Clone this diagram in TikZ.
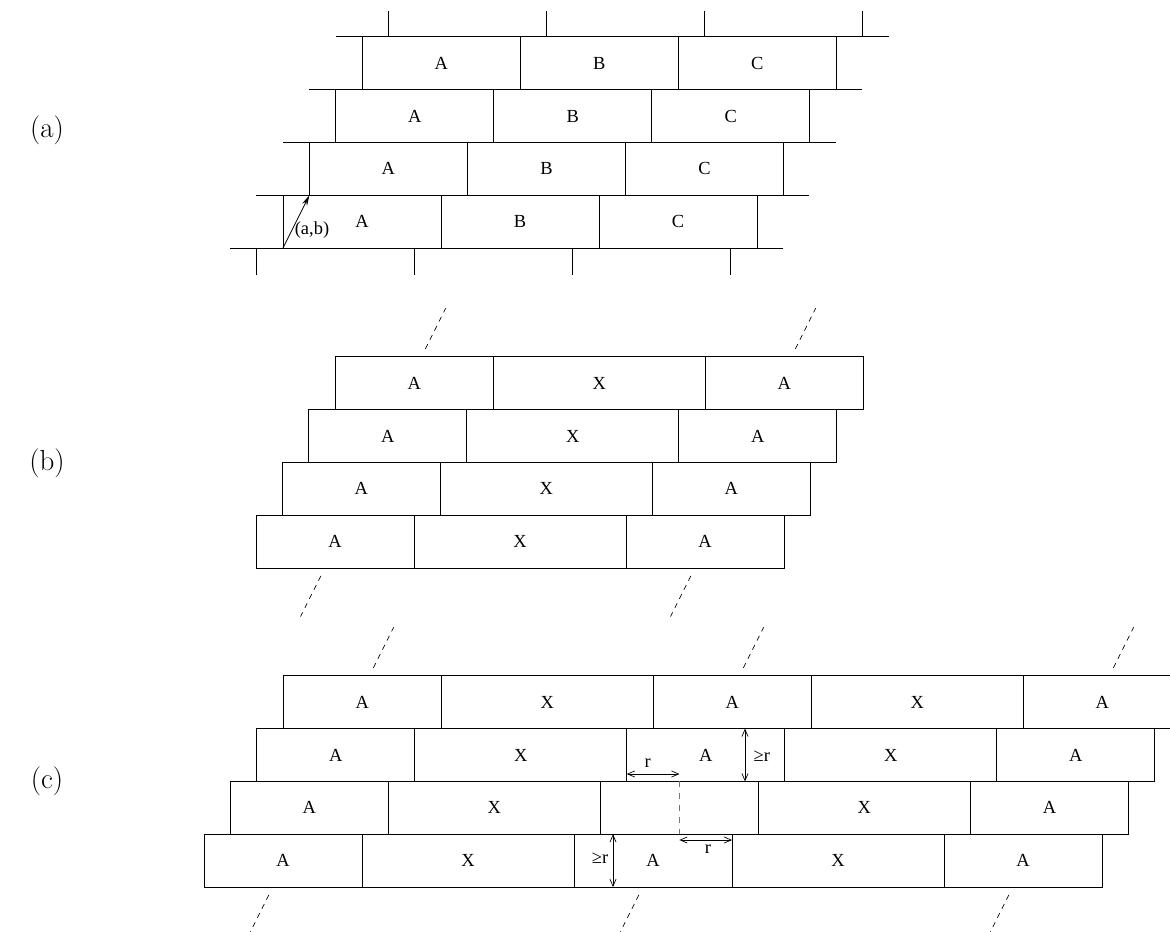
\documentclass[tikz,border=0pt]{standalone}
\usepackage{fontspec}
\newfontfamily\figfont{Liberation Serif}
\usetikzlibrary{arrows.meta,calc}

\begin{document}
\begin{tikzpicture}[
    x=0.02cm, y=-0.02cm,
    wall/.style={line width=0.5pt, black},
    brick/.style={draw=black, line width=0.5pt},
    blbl/.style={font=\figfont\fontsize{10.5pt}{12pt}\selectfont, inner sep=0pt},
    partlbl/.style={font=\fontsize{16.5pt}{19pt}\selectfont, inner sep=0pt},
    lattice/.style={line width=0.4pt, dash pattern=on 3pt off 2.8pt},
    hidden/.style={line width=0.6pt, black!55, dash pattern=on 3.4pt off 3.4pt},
    latvec/.style={-{Stealth[length=6pt,width=3pt]}, line width=0.5pt},
    measure/.style={{Straight Barb[length=4pt,width=3.5pt]}-{Straight Barb[length=4pt,width=3.5pt]},
                    line width=0.4pt},
]

\path[use as bounding box, clip] (0,0) rectangle (1170,932);

% Row offset and brick sizes
\def\dx{26.4}
\def\hh{52.8}
\def\wb{158}
\def\wx{212}

% === (a) periodic wall ===
\node[partlbl] (pa) at (47,130) {(a)};

% --- Horizontal joints ---
\foreach \i in {0,...,4} {
    \draw[wall] ({230+\i*\dx},{248-\i*\hh}) -- ({783+\i*\dx},{248-\i*\hh});
}
% --- Vertical joints (rows 1..4) ---
\foreach \i in {1,...,4} {
    \foreach \k in {0,...,3} {
        \draw[wall] ({283+(\i-1)*\dx+\k*\wb},{248-(\i-1)*\hh}) -- ++(0,-\hh);
    }
}
% --- Stubs of the rows below and above ---
\foreach \k in {0,...,3} {
    \draw[wall] ({256.6+\k*\wb},248) -- ++(0,27);
    \draw[wall] ({388.6+\k*\wb},36.8) -- ++(0,-26);
}
% --- Labels ---
\foreach \i in {1,...,4} {
    \foreach \t [count=\k from 0] in {A,B,C} {
        \node[blbl] (a\i\t) at ({362+(\i-1)*\dx+\k*\wb},{221.6-(\i-1)*\hh}) {\t};
    }
}
% --- Lattice vector ---
\coordinate (o0) at (283,248);
\coordinate (o1) at (309.4,195.2);
\draw[latvec] (o0) -- (o1);
\node[blbl] (ab) at (312,230) {(a,b)};

% === (b) ===
\node[partlbl] (pb) at (47,463) {(b)};

\foreach \i in {1,...,4} {
    \begin{scope}[shift={({256+(\i-1)*\dx},{568-(\i-1)*\hh})}]
        \draw[brick] (0,0) rectangle (528,-\hh);
        \draw[brick] (158,0) -- (158,-\hh) (370,0) -- (370,-\hh);
        \node[blbl] (b\i1) at (79,-26.4) {A};
        \node[blbl] (b\i2) at (264,-26.4) {X};
        \node[blbl] (b\i3) at (449,-26.4) {A};
    \end{scope}
}
% --- Repetition ---
\foreach \n in {b41,b43} {
    \draw[lattice] ($(\n)+(-6,0)+0.65*(\dx,-\hh)$) -- ($(\n)+(-6,0)+1.42*(\dx,-\hh)$);
}
\foreach \n in {b11,b13} {
    \draw[lattice] ($(\n)+(3,0)-0.65*(\dx,-\hh)$) -- ($(\n)+(3,0)-1.42*(\dx,-\hh)$);
}

% === (c) ===
\node[partlbl] (pc) at (47,781) {(c)};

\foreach \i/\mid in {1/A,2/{},3/A,4/A} {
    \begin{scope}[shift={({204+(\i-1)*\dx},{887-(\i-1)*\hh})}]
        \draw[brick] (0,0) rectangle (898,-\hh);
        \foreach \v in {158,370,528,740} {
            \draw[brick] (\v,0) -- (\v,-\hh);
        }
        \node[blbl] (c\i1) at (79,-26.4) {A};
        \node[blbl] (c\i2) at (264,-26.4) {X};
        \node[blbl] (c\i3) at (449,-26.4) {\mid};
        \node[blbl] (c\i4) at (634,-26.4) {X};
        \node[blbl] (c\i5) at (819,-26.4) {A};
    \end{scope}
}
% --- Middle of the empty brick ---
\draw[hidden] ($(c23)+(0,-26.4)$) -- ($(c23)+(0,26.4)$);

% --- Distances ---
\coordinate (ra0) at ($(c33)+(-79,19)$);
\coordinate (ra1) at ($(c33)+(-26.4,19)$);
\draw[measure] (ra0) -- (ra1);
\node[blbl] (rla) at ($(c33)+(-58,8)$) {r};

\coordinate (ga0) at ($(c33)+(39.2,-26.4)$);
\coordinate (ga1) at ($(c33)+(39.2,26.4)$);
\draw[measure] (ga0) -- (ga1);
\node[blbl] (gla) at ($(c33)+(56,1)$) {≥r};

\coordinate (rb0) at ($(c13)+(26.4,-20.6)$);
\coordinate (rb1) at ($(c13)+(79,-20.6)$);
\draw[measure] (rb0) -- (rb1);
\node[blbl] (rlb) at ($(c13)+(55,-11.6)$) {r};

\coordinate (gb0) at ($(c13)+(-40,-26.4)$);
\coordinate (gb1) at ($(c13)+(-40,26.4)$);
\draw[measure] (gb0) -- (gb1);
\node[blbl] (glb) at ($(c13)+(-53,-2)$) {≥r};

% --- Repetition ---
\foreach \n in {c41,c43,c45} {
    \draw[lattice] ($(\n)+(-6,0)+0.65*(\dx,-\hh)$) -- ($(\n)+(-6,0)+1.42*(\dx,-\hh)$);
}
\foreach \n in {c11,c13,c15} {
    \draw[lattice] ($(\n)+(3,0)-0.65*(\dx,-\hh)$) -- ($(\n)+(3,0)-1.42*(\dx,-\hh)$);
}

\end{tikzpicture}
\end{document}
